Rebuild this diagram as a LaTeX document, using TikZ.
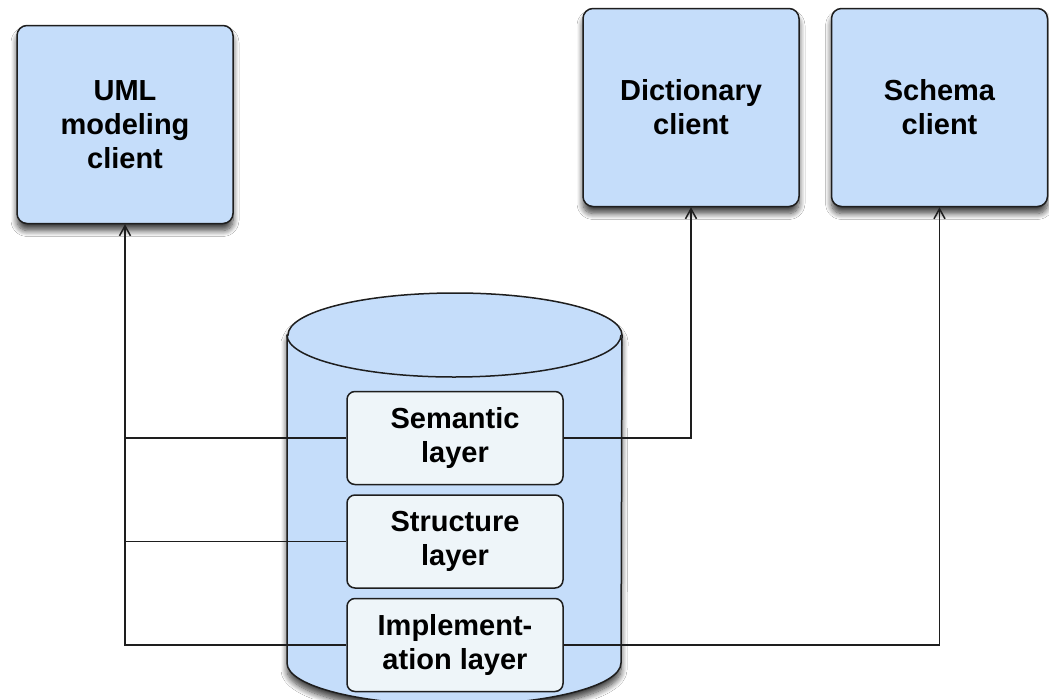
\documentclass[tikz,border=0pt]{standalone}
\usepackage{fontspec}
\setmainfont{Liberation Sans}
\usetikzlibrary{arrows.meta,shadows.blur}
\definecolor{boxblue}{RGB}{197,221,250}
\definecolor{layerfill}{RGB}{238,245,249}
\definecolor{edgecol}{RGB}{30,30,30}
\begin{document}
\begin{tikzpicture}[x=1pt,y=-1pt,
  myshadow/.style={blur shadow={shadow xshift=0pt, shadow yshift=-7pt, shadow blur steps=10, shadow blur radius=6pt, shadow opacity=75}},
  client/.style={draw=edgecol, line width=1.5pt, fill=boxblue, rounded corners=10pt,
    minimum width=216pt, minimum height=198pt, inner sep=0pt, align=center,
    font=\fontsize{29}{34}\selectfont\bfseries, myshadow},
  layerbox/.style={draw=edgecol, line width=1.5pt, fill=layerfill, rounded corners=8pt,
    minimum width=216pt, minimum height=93pt, inner sep=0pt, align=center,
    font=\fontsize{29}{34}\selectfont\bfseries},
  conn/.style={draw=edgecol, line width=1.5pt},
  arr/.style={conn, -{Straight Barb[length=10pt,width=11pt,line width=1.5pt]}}
]
\useasboundingbox (0,0) rectangle (1049,699);
\fill[white] (0,0) rectangle (1049,699);

% client boxes
\node[client] (uml) at (125,124.5) {UML\\modeling\\client};
\node[client] (dict) at (691,107.5) {Dictionary\\client};
\node[client] (schema) at (939.5,107.5) {Schema\\client};

% cylinder
\path[fill=boxblue, myshadow] (287,335) -- (287,663)
  arc[start angle=180, end angle=0, x radius=167, y radius=42] -- (622,335)
  arc[start angle=0, end angle=-180, x radius=167, y radius=42] -- cycle;
\draw[draw=edgecol, line width=1.5pt] (287,335) -- (287,663)
  arc[start angle=180, end angle=0, x radius=167, y radius=42] -- (622,335)
  arc[start angle=0, end angle=-180, x radius=167, y radius=42] -- cycle;
\draw[draw=edgecol, line width=1.5pt] (287,335)
  arc[start angle=180, end angle=0, x radius=167, y radius=42];

% layers
\node[layerbox] (sem) at (455,438) {Semantic\\layer};
\node[layerbox] (str) at (455,541.5) {Structure\\layer};
\node[layerbox] (impl) at (455,645) {Implement-\\ation layer};

% connectors
\draw[arr] (impl.west) -| (uml.south);
\draw[conn] (sem.west) -- (sem.west -| uml.south);
\draw[conn] (str.west) -- (str.west -| uml.south);
\draw[arr] (sem.east) -| (dict.south);
\draw[arr] (impl.east) -| (schema.south);
\end{tikzpicture}
\end{document}
